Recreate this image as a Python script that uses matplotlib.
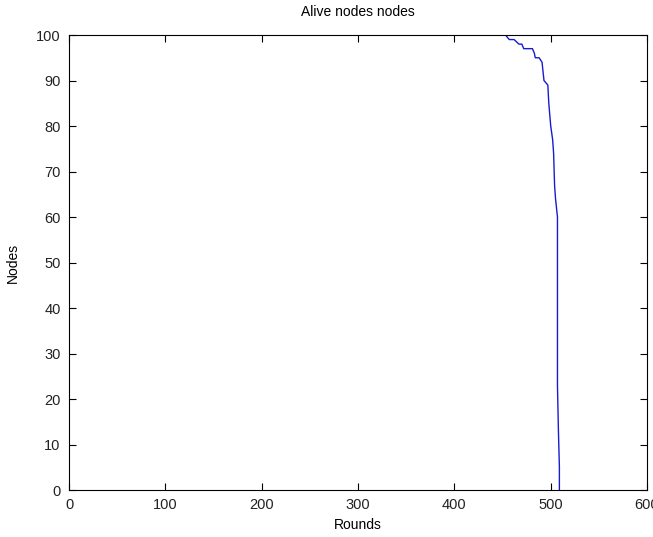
import matplotlib.pyplot as plt

plt.rcParams['font.family'] = ['Liberation Sans', 'DejaVu Sans']

# alive nodes per round (breakpoints of the curve)
rounds = [0, 453, 457, 462, 467, 470, 472, 481, 483, 484, 488, 491, 493, 497,
          498, 500, 502, 503, 504, 505, 507, 507, 508, 509, 509]
alive = [100, 100, 99, 99, 98, 98, 97, 97, 96, 95, 95, 94, 90, 89,
         85, 80, 77, 74, 67, 64, 60, 23, 13, 5, 0]

xticks = [0, 100, 200, 300, 400, 500, 600]
yticks = [0, 10, 20, 30, 40, 50, 60, 70, 80, 90, 100]

fig = plt.figure(figsize=(6.53, 5.37), dpi=100)
ax = fig.add_axes([0.1057, 0.0875, 0.8852, 0.8473])

ax.plot(rounds, alive, color='#1a1ad0', linewidth=1)

ax.set_xlim(0, 600)
ax.set_ylim(0, 100)
ax.set_xticks(xticks)
ax.set_yticks(yticks)
ax.tick_params(direction='in', length=5, top=True, right=True,
               labelsize=10.5, colors='black')
ax.tick_params(axis='x', pad=6)
ax.tick_params(axis='y', pad=6)
ax.tick_params(labelcolor='#222222')
for s in ax.spines.values():
    s.set_linewidth(0.8)

ax.set_title('Alive nodes nodes', fontsize=10, pad=14)
ax.set_xlabel('Rounds', fontsize=10, labelpad=4)
ax.set_ylabel('Nodes', fontsize=10, labelpad=12)

fig.savefig('out.png', dpi=100)
